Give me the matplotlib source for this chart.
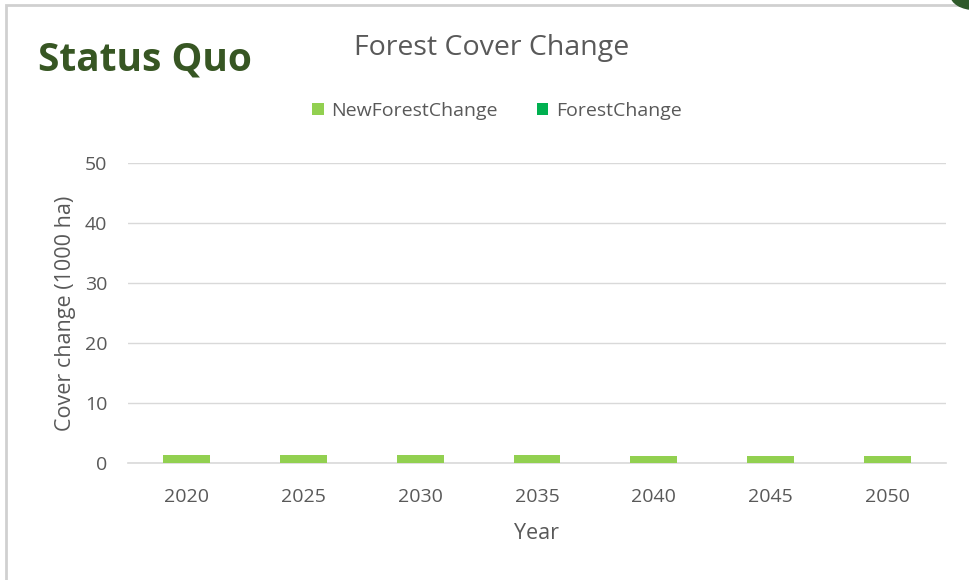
import numpy as np
import matplotlib.pyplot as plt
from matplotlib.patches import Rectangle, Circle

# data
years = ["2020", "2025", "2030", "2035", "2040", "2045", "2050"]
new_forest_change = [1.38, 1.38, 1.38, 1.38, 1.17, 1.17, 1.17]
forest_change = [0, 0, 0, 0, 0, 0, 0]
y_ticks = [0, 10, 20, 30, 40, 50]

plt.rcParams['font.family'] = ['Open Sans', 'DejaVu Sans']
grey = '#595959'

fig = plt.figure(figsize=(9.69, 5.8), dpi=100)
ax = fig.add_axes([128 / 969, 1 - 463 / 580, (946 - 128) / 969, 300 / 580])

x = np.arange(len(years))
ax.bar(x, new_forest_change, width=0.4, color='#92d050', label='NewForestChange', zorder=3)
ax.bar(x, forest_change, width=0.4, bottom=new_forest_change, color='#00b050',
       label='ForestChange', zorder=3)

ax.set_xlim(-0.5, len(years) - 0.5)
ax.set_ylim(0, 50)
ax.set_yticks(y_ticks)
ax.set_xticks(x)
ax.set_xticklabels(years)
ax.tick_params(axis='both', length=0, labelsize=14, colors=grey)
ax.tick_params(axis='x', pad=18)
ax.tick_params(axis='y', pad=15)
ax.grid(axis='y', color='#d9d9d9', linewidth=1, zorder=0)
for s in ['top', 'right', 'left']:
    ax.spines[s].set_visible(False)
ax.spines['bottom'].set_color('#d9d9d9')
ax.spines['bottom'].set_linewidth(1.2)

ax.set_xlabel('Year', fontsize=15.5, color=grey, labelpad=12)
ax.set_ylabel('Cover change (1000 ha)', fontsize=15.5, color=grey, labelpad=6)

fig.text(492 / 969, 1 - 48 / 580, 'Forest Cover Change', fontsize=20.5, color=grey,
         ha='center', va='center')
fig.text(38 / 969, 1 - 60 / 580, 'Status Quo', fontsize=28, fontweight='bold',
         color='#375623', ha='left', va='center')

leg = fig.legend(loc='center', bbox_to_anchor=(497 / 969, 1 - 111 / 580), ncol=2,
                 frameon=False, fontsize=14, handlelength=0.6, handleheight=0.6,
                 columnspacing=2.0, handletextpad=0.4)
for t in leg.get_texts():
    t.set_color(grey)

# frame around the chart and corner mark
fig.patches.append(Rectangle((6 / 969, -0.01), 1.0, 1 - 5 / 580 + 0.01,
                             transform=fig.transFigure, fill=False,
                             edgecolor='#d0d0d0', linewidth=2))
fig.patches.append(Circle((975 / 969, 1 + 5 / 580), 0.025, transform=fig.transFigure,
                          color='#2f5a2a'))

fig.savefig('out.png', dpi=100)
